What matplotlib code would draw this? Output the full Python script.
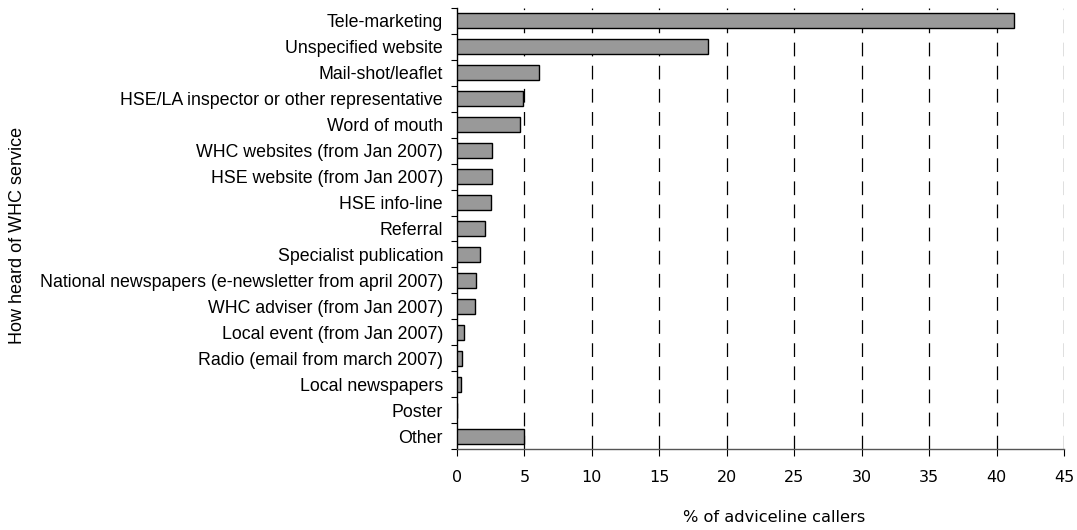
import matplotlib
matplotlib.use("Agg")
import matplotlib.pyplot as plt

plt.rcParams['font.family'] = ['Liberation Sans', 'DejaVu Sans']

categories = [
    "Tele-marketing",
    "Unspecified website",
    "Mail-shot/leaflet",
    "HSE/LA inspector or other representative",
    "Word of mouth",
    "WHC websites (from Jan 2007)",
    "HSE website (from Jan 2007)",
    "HSE info-line",
    "Referral",
    "Specialist publication",
    "National newspapers (e-newsletter from april 2007)",
    "WHC adviser (from Jan 2007)",
    "Local event (from Jan 2007)",
    "Radio (email from march 2007)",
    "Local newspapers",
    "Poster",
    "Other",
]
values = [41.3, 18.6, 6.1, 4.9, 4.7, 2.6, 2.6, 2.5, 2.1, 1.7, 1.4, 1.3, 0.5, 0.4, 0.3, 0.0, 5.0]
xticks = [0, 5, 10, 15, 20, 25, 30, 35, 40, 45]

fig = plt.figure(figsize=(10.77, 5.30), dpi=100)
ax = fig.add_axes([457/1077, 1 - 449/530, (1064-457)/1077, (449-8)/530])

n = len(categories)
ypos = list(range(n))
ax.barh(ypos, values, height=0.58, color='#999999', edgecolor='black', linewidth=1.0, zorder=3)
ax.set_ylim(n - 0.5, -0.5)
ax.set_xlim(0, 45)

ax.set_yticks(ypos)
ax.set_yticklabels(categories, fontsize=12.8)
ax.set_yticks([i + 0.5 for i in range(-1, n)], minor=True)
ax.tick_params(axis='y', which='major', length=0, pad=10)
ax.tick_params(axis='y', which='minor', length=4, width=0.8, direction='out')

ax.set_xticks(xticks)
ax.set_xticklabels([str(t) for t in xticks], fontsize=11.5, family='DejaVu Sans')
ax.tick_params(axis='x', length=5, width=0.8, direction='out', pad=10)

for t in xticks[1:]:
    ax.axvline(t, color='black', linestyle=(0, (11, 7.5)), linewidth=0.9, zorder=1)

ax.spines['top'].set_visible(False)
ax.spines['right'].set_visible(False)
ax.spines['left'].set_color('black')
ax.spines['left'].set_linewidth(1.0)
ax.spines['bottom'].set_color('#555555')
ax.spines['bottom'].set_linewidth(1.0)

fig.text(774/1077, 1 - 517/530, "% of adviceline callers", fontsize=11.7, family='DejaVu Sans',
         ha='center', va='center')
fig.text(18/1077, 1 - 235/530, "How heard of WHC service", rotation=90, fontsize=13,
         ha='center', va='center')

fig.savefig("out.png", dpi=100)
